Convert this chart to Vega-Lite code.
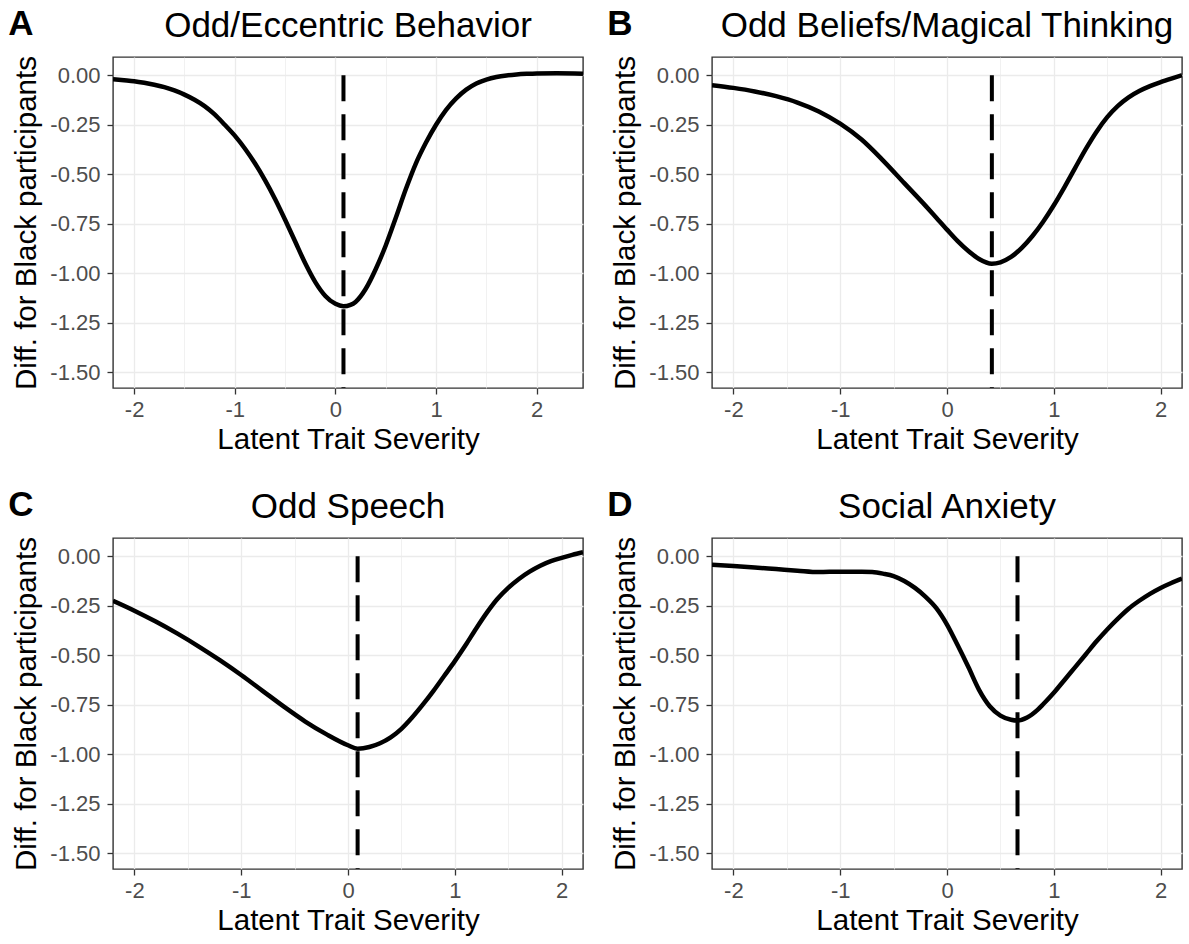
{
  "$schema": "https://vega.github.io/schema/vega-lite/v6.json",
  "background": "white",
  "padding": {"left": 8, "top": 6, "right": 4, "bottom": 2},
  "config": {
    "font": "Liberation Sans",
    "view": {"stroke": "#333333", "strokeWidth": 1.4},
    "axis": {
      "domain": false,
      "gridColor": "#EBEBEB",
      "tickColor": "#333333",
      "tickWidth": 1.3,
      "tickSize": 6,
      "labelFontSize": 22,
      "labelColor": "#4D4D4D",
      "labelOverlap": false,
      "labelFlush": false,
      "titleFontSize": 29.5,
      "titleFontWeight": "normal",
      "titleColor": "black"
    },
    "axisX": {"labelPadding": 5, "titlePadding": 5},
    "axisY": {"labelPadding": 7, "titlePadding": 8},
    "title": {"fontSize": 35, "fontWeight": "normal", "color": "black"}
  },
  "datasets": {
    "curveA": [
      {"theta": -2.21, "diff": -0.02}, {"theta": -2.1, "diff": -0.025}, {"theta": -2.0, "diff": -0.03},
      {"theta": -1.9, "diff": -0.038}, {"theta": -1.8, "diff": -0.048}, {"theta": -1.7, "diff": -0.06},
      {"theta": -1.6, "diff": -0.077}, {"theta": -1.5, "diff": -0.098}, {"theta": -1.4, "diff": -0.124},
      {"theta": -1.3, "diff": -0.156}, {"theta": -1.2, "diff": -0.198}, {"theta": -1.1, "diff": -0.25},
      {"theta": -1.0, "diff": -0.305}, {"theta": -0.9, "diff": -0.37}, {"theta": -0.8, "diff": -0.445},
      {"theta": -0.7, "diff": -0.53}, {"theta": -0.6, "diff": -0.625}, {"theta": -0.5, "diff": -0.73},
      {"theta": -0.4, "diff": -0.84}, {"theta": -0.3, "diff": -0.95}, {"theta": -0.2, "diff": -1.045},
      {"theta": -0.1, "diff": -1.115}, {"theta": 0.0, "diff": -1.155}, {"theta": 0.08, "diff": -1.167},
      {"theta": 0.15, "diff": -1.16}, {"theta": 0.2, "diff": -1.145}, {"theta": 0.3, "diff": -1.08},
      {"theta": 0.4, "diff": -0.98}, {"theta": 0.5, "diff": -0.86}, {"theta": 0.6, "diff": -0.72},
      {"theta": 0.7, "diff": -0.575}, {"theta": 0.8, "diff": -0.445}, {"theta": 0.9, "diff": -0.34},
      {"theta": 1.0, "diff": -0.25}, {"theta": 1.1, "diff": -0.175}, {"theta": 1.2, "diff": -0.117},
      {"theta": 1.3, "diff": -0.073}, {"theta": 1.4, "diff": -0.042}, {"theta": 1.5, "diff": -0.022},
      {"theta": 1.6, "diff": -0.009}, {"theta": 1.7, "diff": -0.001}, {"theta": 1.8, "diff": 0.004},
      {"theta": 1.9, "diff": 0.007}, {"theta": 2.0, "diff": 0.009}, {"theta": 2.2, "diff": 0.01},
      {"theta": 2.46, "diff": 0.008}
    ],
    "curveB": [
      {"theta": -2.2, "diff": -0.05}, {"theta": -2.0, "diff": -0.064}, {"theta": -1.8, "diff": -0.082},
      {"theta": -1.6, "diff": -0.106}, {"theta": -1.4, "diff": -0.138}, {"theta": -1.2, "diff": -0.183},
      {"theta": -1.0, "diff": -0.245}, {"theta": -0.8, "diff": -0.325}, {"theta": -0.6, "diff": -0.43},
      {"theta": -0.4, "diff": -0.545}, {"theta": -0.2, "diff": -0.66}, {"theta": -0.1, "diff": -0.72},
      {"theta": 0.0, "diff": -0.78}, {"theta": 0.1, "diff": -0.838}, {"theta": 0.2, "diff": -0.888},
      {"theta": 0.3, "diff": -0.928}, {"theta": 0.42, "diff": -0.952}, {"theta": 0.5, "diff": -0.945},
      {"theta": 0.6, "diff": -0.918}, {"theta": 0.7, "diff": -0.872}, {"theta": 0.8, "diff": -0.812},
      {"theta": 0.9, "diff": -0.74}, {"theta": 1.0, "diff": -0.657}, {"theta": 1.1, "diff": -0.565},
      {"theta": 1.2, "diff": -0.468}, {"theta": 1.3, "diff": -0.372}, {"theta": 1.4, "diff": -0.285},
      {"theta": 1.5, "diff": -0.212}, {"theta": 1.6, "diff": -0.155}, {"theta": 1.7, "diff": -0.112},
      {"theta": 1.8, "diff": -0.08}, {"theta": 1.9, "diff": -0.055}, {"theta": 2.0, "diff": -0.035},
      {"theta": 2.1, "diff": -0.017}, {"theta": 2.2, "diff": 0.0}
    ],
    "curveC": [
      {"theta": -2.2, "diff": -0.225}, {"theta": -2.0, "diff": -0.275}, {"theta": -1.8, "diff": -0.33},
      {"theta": -1.6, "diff": -0.39}, {"theta": -1.4, "diff": -0.455}, {"theta": -1.2, "diff": -0.525},
      {"theta": -1.0, "diff": -0.6}, {"theta": -0.8, "diff": -0.68}, {"theta": -0.6, "diff": -0.76},
      {"theta": -0.4, "diff": -0.835}, {"theta": -0.2, "diff": -0.9}, {"theta": 0.0, "diff": -0.955},
      {"theta": 0.09, "diff": -0.972}, {"theta": 0.2, "diff": -0.964}, {"theta": 0.3, "diff": -0.945},
      {"theta": 0.4, "diff": -0.915}, {"theta": 0.5, "diff": -0.872}, {"theta": 0.6, "diff": -0.815},
      {"theta": 0.7, "diff": -0.75}, {"theta": 0.8, "diff": -0.68}, {"theta": 0.9, "diff": -0.605},
      {"theta": 1.0, "diff": -0.53}, {"theta": 1.1, "diff": -0.45}, {"theta": 1.2, "diff": -0.365},
      {"theta": 1.3, "diff": -0.285}, {"theta": 1.4, "diff": -0.215}, {"theta": 1.5, "diff": -0.16},
      {"theta": 1.6, "diff": -0.115}, {"theta": 1.7, "diff": -0.078}, {"theta": 1.8, "diff": -0.048},
      {"theta": 1.9, "diff": -0.025}, {"theta": 2.0, "diff": -0.008}, {"theta": 2.1, "diff": 0.007},
      {"theta": 2.2, "diff": 0.02}
    ],
    "curveD": [
      {"theta": -2.2, "diff": -0.043}, {"theta": -2.0, "diff": -0.05}, {"theta": -1.8, "diff": -0.057},
      {"theta": -1.6, "diff": -0.065}, {"theta": -1.4, "diff": -0.073}, {"theta": -1.2, "diff": -0.08},
      {"theta": -1.0, "diff": -0.078}, {"theta": -0.8, "diff": -0.078}, {"theta": -0.7, "diff": -0.08},
      {"theta": -0.6, "diff": -0.088}, {"theta": -0.5, "diff": -0.1}, {"theta": -0.4, "diff": -0.125},
      {"theta": -0.3, "diff": -0.16}, {"theta": -0.2, "diff": -0.205}, {"theta": -0.1, "diff": -0.262},
      {"theta": 0.0, "diff": -0.345}, {"theta": 0.1, "diff": -0.45}, {"theta": 0.2, "diff": -0.56},
      {"theta": 0.3, "diff": -0.675}, {"theta": 0.4, "diff": -0.758}, {"theta": 0.5, "diff": -0.805},
      {"theta": 0.6, "diff": -0.826}, {"theta": 0.66, "diff": -0.83}, {"theta": 0.75, "diff": -0.815},
      {"theta": 0.85, "diff": -0.775}, {"theta": 0.9, "diff": -0.748}, {"theta": 1.0, "diff": -0.69},
      {"theta": 1.1, "diff": -0.625}, {"theta": 1.2, "diff": -0.56}, {"theta": 1.3, "diff": -0.495},
      {"theta": 1.4, "diff": -0.43}, {"theta": 1.5, "diff": -0.37}, {"theta": 1.6, "diff": -0.315},
      {"theta": 1.7, "diff": -0.265}, {"theta": 1.8, "diff": -0.225}, {"theta": 1.9, "diff": -0.19},
      {"theta": 2.0, "diff": -0.16}, {"theta": 2.1, "diff": -0.135}, {"theta": 2.2, "diff": -0.113}
    ],
    "vlines": [
      {"panel": "A", "theta": 0.08, "y_top": 0, "y_bottom": -1.6},
      {"panel": "B", "theta": 0.42, "y_top": 0, "y_bottom": -1.6},
      {"panel": "C", "theta": 0.09, "y_top": 0, "y_bottom": -1.6},
      {"panel": "D", "theta": 0.66, "y_top": 0, "y_bottom": -1.6}
    ]
  },
  "spacing": 32,
  "vconcat": [
    {
      "spacing": 23,
      "hconcat": [
        {
          "title": {"text": "A", "anchor": "start", "frame": "bounds", "fontSize": 35, "fontWeight": "bold", "offset": -34, "dx": -3},
          "vconcat": [
            {
              "width": 470, "height": 331,
              "title": {"text": "Odd/Eccentric Behavior", "anchor": "middle", "frame": "group", "offset": 12},
              "layer": [
                {
                  "data": {"name": "curveA"},
                  "mark": {"type": "line", "color": "black", "strokeWidth": 4.5, "interpolate": "monotone", "clip": true},
                  "encoding": {
                    "x": {"field": "theta", "type": "quantitative", "title": "Latent Trait Severity",
                      "scale": {"domain": [-2.21, 2.46], "nice": false, "zero": false},
                      "axis": {"values": [-2, -1.5, -1, -0.5, 0, 0.5, 1, 1.5, 2],
                        "labelExpr": "abs(datum.value - round(datum.value)) < 1e-6 ? toString(datum.value) : ''",
                        "tickOpacity": {"condition": {"test": "abs(datum.value - round(datum.value)) < 1e-6", "value": 1}, "value": 0},
                        "gridWidth": {"condition": {"test": "abs(datum.value - round(datum.value)) < 1e-6", "value": 1.3}, "value": 0.7}}},
                    "y": {"field": "diff", "type": "quantitative", "title": "Diff. for Black participants",
                      "scale": {"domain": [-1.58, 0.092], "nice": false, "zero": false},
                      "axis": {"values": [-1.5, -1.375, -1.25, -1.125, -1, -0.875, -0.75, -0.625, -0.5, -0.375, -0.25, -0.125, 0],
                        "labelExpr": "abs(datum.value * 4 - round(datum.value * 4)) < 1e-6 ? (datum.value === 0 ? '0.00' : '-' + format(-datum.value, '.2f')) : ''",
                        "tickOpacity": {"condition": {"test": "abs(datum.value * 4 - round(datum.value * 4)) < 1e-6", "value": 1}, "value": 0},
                        "gridWidth": {"condition": {"test": "abs(datum.value * 4 - round(datum.value * 4)) < 1e-6", "value": 1.3}, "value": 0.7}}}
                  }
                },
                {
                  "data": {"name": "vlines"},
                  "transform": [{"filter": "datum.panel === 'A'"}],
                  "mark": {"type": "rule", "color": "black", "strokeWidth": 4, "strokeDash": [26, 13], "clip": true},
                  "encoding": {
                    "x": {"field": "theta", "type": "quantitative"},
                    "y": {"field": "y_top", "type": "quantitative"},
                    "y2": {"field": "y_bottom"}
                  }
                }
              ]
            }
          ]
        },
        {
          "title": {"text": "B", "anchor": "start", "frame": "bounds", "fontSize": 35, "fontWeight": "bold", "offset": -34, "dx": -3},
          "vconcat": [
            {
              "width": 470, "height": 331,
              "title": {"text": "Odd Beliefs/Magical Thinking", "anchor": "middle", "frame": "group", "offset": 12},
              "layer": [
                {
                  "data": {"name": "curveB"},
                  "mark": {"type": "line", "color": "black", "strokeWidth": 4.5, "interpolate": "monotone", "clip": true},
                  "encoding": {
                    "x": {"field": "theta", "type": "quantitative", "title": "Latent Trait Severity",
                      "scale": {"domain": [-2.2, 2.2], "nice": false, "zero": false},
                      "axis": {"values": [-2, -1.5, -1, -0.5, 0, 0.5, 1, 1.5, 2],
                        "labelExpr": "abs(datum.value - round(datum.value)) < 1e-6 ? toString(datum.value) : ''",
                        "tickOpacity": {"condition": {"test": "abs(datum.value - round(datum.value)) < 1e-6", "value": 1}, "value": 0},
                        "gridWidth": {"condition": {"test": "abs(datum.value - round(datum.value)) < 1e-6", "value": 1.3}, "value": 0.7}}},
                    "y": {"field": "diff", "type": "quantitative", "title": "Diff. for Black participants",
                      "scale": {"domain": [-1.58, 0.092], "nice": false, "zero": false},
                      "axis": {"values": [-1.5, -1.375, -1.25, -1.125, -1, -0.875, -0.75, -0.625, -0.5, -0.375, -0.25, -0.125, 0],
                        "labelExpr": "abs(datum.value * 4 - round(datum.value * 4)) < 1e-6 ? (datum.value === 0 ? '0.00' : '-' + format(-datum.value, '.2f')) : ''",
                        "tickOpacity": {"condition": {"test": "abs(datum.value * 4 - round(datum.value * 4)) < 1e-6", "value": 1}, "value": 0},
                        "gridWidth": {"condition": {"test": "abs(datum.value * 4 - round(datum.value * 4)) < 1e-6", "value": 1.3}, "value": 0.7}}}
                  }
                },
                {
                  "data": {"name": "vlines"},
                  "transform": [{"filter": "datum.panel === 'B'"}],
                  "mark": {"type": "rule", "color": "black", "strokeWidth": 4, "strokeDash": [26, 13], "clip": true},
                  "encoding": {
                    "x": {"field": "theta", "type": "quantitative"},
                    "y": {"field": "y_top", "type": "quantitative"},
                    "y2": {"field": "y_bottom"}
                  }
                }
              ]
            }
          ]
        }
      ]
    },
    {
      "spacing": 23,
      "hconcat": [
        {
          "title": {"text": "C", "anchor": "start", "frame": "bounds", "fontSize": 35, "fontWeight": "bold", "offset": -34, "dx": -3},
          "vconcat": [
            {
              "width": 470, "height": 331,
              "title": {"text": "Odd Speech", "anchor": "middle", "frame": "group", "offset": 12},
              "layer": [
                {
                  "data": {"name": "curveC"},
                  "mark": {"type": "line", "color": "black", "strokeWidth": 4.5, "interpolate": "monotone", "clip": true},
                  "encoding": {
                    "x": {"field": "theta", "type": "quantitative", "title": "Latent Trait Severity",
                      "scale": {"domain": [-2.2, 2.2], "nice": false, "zero": false},
                      "axis": {"values": [-2, -1.5, -1, -0.5, 0, 0.5, 1, 1.5, 2],
                        "labelExpr": "abs(datum.value - round(datum.value)) < 1e-6 ? toString(datum.value) : ''",
                        "tickOpacity": {"condition": {"test": "abs(datum.value - round(datum.value)) < 1e-6", "value": 1}, "value": 0},
                        "gridWidth": {"condition": {"test": "abs(datum.value - round(datum.value)) < 1e-6", "value": 1.3}, "value": 0.7}}},
                    "y": {"field": "diff", "type": "quantitative", "title": "Diff. for Black participants",
                      "scale": {"domain": [-1.58, 0.092], "nice": false, "zero": false},
                      "axis": {"values": [-1.5, -1.375, -1.25, -1.125, -1, -0.875, -0.75, -0.625, -0.5, -0.375, -0.25, -0.125, 0],
                        "labelExpr": "abs(datum.value * 4 - round(datum.value * 4)) < 1e-6 ? (datum.value === 0 ? '0.00' : '-' + format(-datum.value, '.2f')) : ''",
                        "tickOpacity": {"condition": {"test": "abs(datum.value * 4 - round(datum.value * 4)) < 1e-6", "value": 1}, "value": 0},
                        "gridWidth": {"condition": {"test": "abs(datum.value * 4 - round(datum.value * 4)) < 1e-6", "value": 1.3}, "value": 0.7}}}
                  }
                },
                {
                  "data": {"name": "vlines"},
                  "transform": [{"filter": "datum.panel === 'C'"}],
                  "mark": {"type": "rule", "color": "black", "strokeWidth": 4, "strokeDash": [26, 13], "clip": true},
                  "encoding": {
                    "x": {"field": "theta", "type": "quantitative"},
                    "y": {"field": "y_top", "type": "quantitative"},
                    "y2": {"field": "y_bottom"}
                  }
                }
              ]
            }
          ]
        },
        {
          "title": {"text": "D", "anchor": "start", "frame": "bounds", "fontSize": 35, "fontWeight": "bold", "offset": -34, "dx": -3},
          "vconcat": [
            {
              "width": 470, "height": 331,
              "title": {"text": "Social Anxiety", "anchor": "middle", "frame": "group", "offset": 12},
              "layer": [
                {
                  "data": {"name": "curveD"},
                  "mark": {"type": "line", "color": "black", "strokeWidth": 4.5, "interpolate": "monotone", "clip": true},
                  "encoding": {
                    "x": {"field": "theta", "type": "quantitative", "title": "Latent Trait Severity",
                      "scale": {"domain": [-2.2, 2.2], "nice": false, "zero": false},
                      "axis": {"values": [-2, -1.5, -1, -0.5, 0, 0.5, 1, 1.5, 2],
                        "labelExpr": "abs(datum.value - round(datum.value)) < 1e-6 ? toString(datum.value) : ''",
                        "tickOpacity": {"condition": {"test": "abs(datum.value - round(datum.value)) < 1e-6", "value": 1}, "value": 0},
                        "gridWidth": {"condition": {"test": "abs(datum.value - round(datum.value)) < 1e-6", "value": 1.3}, "value": 0.7}}},
                    "y": {"field": "diff", "type": "quantitative", "title": "Diff. for Black participants",
                      "scale": {"domain": [-1.58, 0.092], "nice": false, "zero": false},
                      "axis": {"values": [-1.5, -1.375, -1.25, -1.125, -1, -0.875, -0.75, -0.625, -0.5, -0.375, -0.25, -0.125, 0],
                        "labelExpr": "abs(datum.value * 4 - round(datum.value * 4)) < 1e-6 ? (datum.value === 0 ? '0.00' : '-' + format(-datum.value, '.2f')) : ''",
                        "tickOpacity": {"condition": {"test": "abs(datum.value * 4 - round(datum.value * 4)) < 1e-6", "value": 1}, "value": 0},
                        "gridWidth": {"condition": {"test": "abs(datum.value * 4 - round(datum.value * 4)) < 1e-6", "value": 1.3}, "value": 0.7}}}
                  }
                },
                {
                  "data": {"name": "vlines"},
                  "transform": [{"filter": "datum.panel === 'D'"}],
                  "mark": {"type": "rule", "color": "black", "strokeWidth": 4, "strokeDash": [26, 13], "clip": true},
                  "encoding": {
                    "x": {"field": "theta", "type": "quantitative"},
                    "y": {"field": "y_top", "type": "quantitative"},
                    "y2": {"field": "y_bottom"}
                  }
                }
              ]
            }
          ]
        }
      ]
    }
  ]
}
